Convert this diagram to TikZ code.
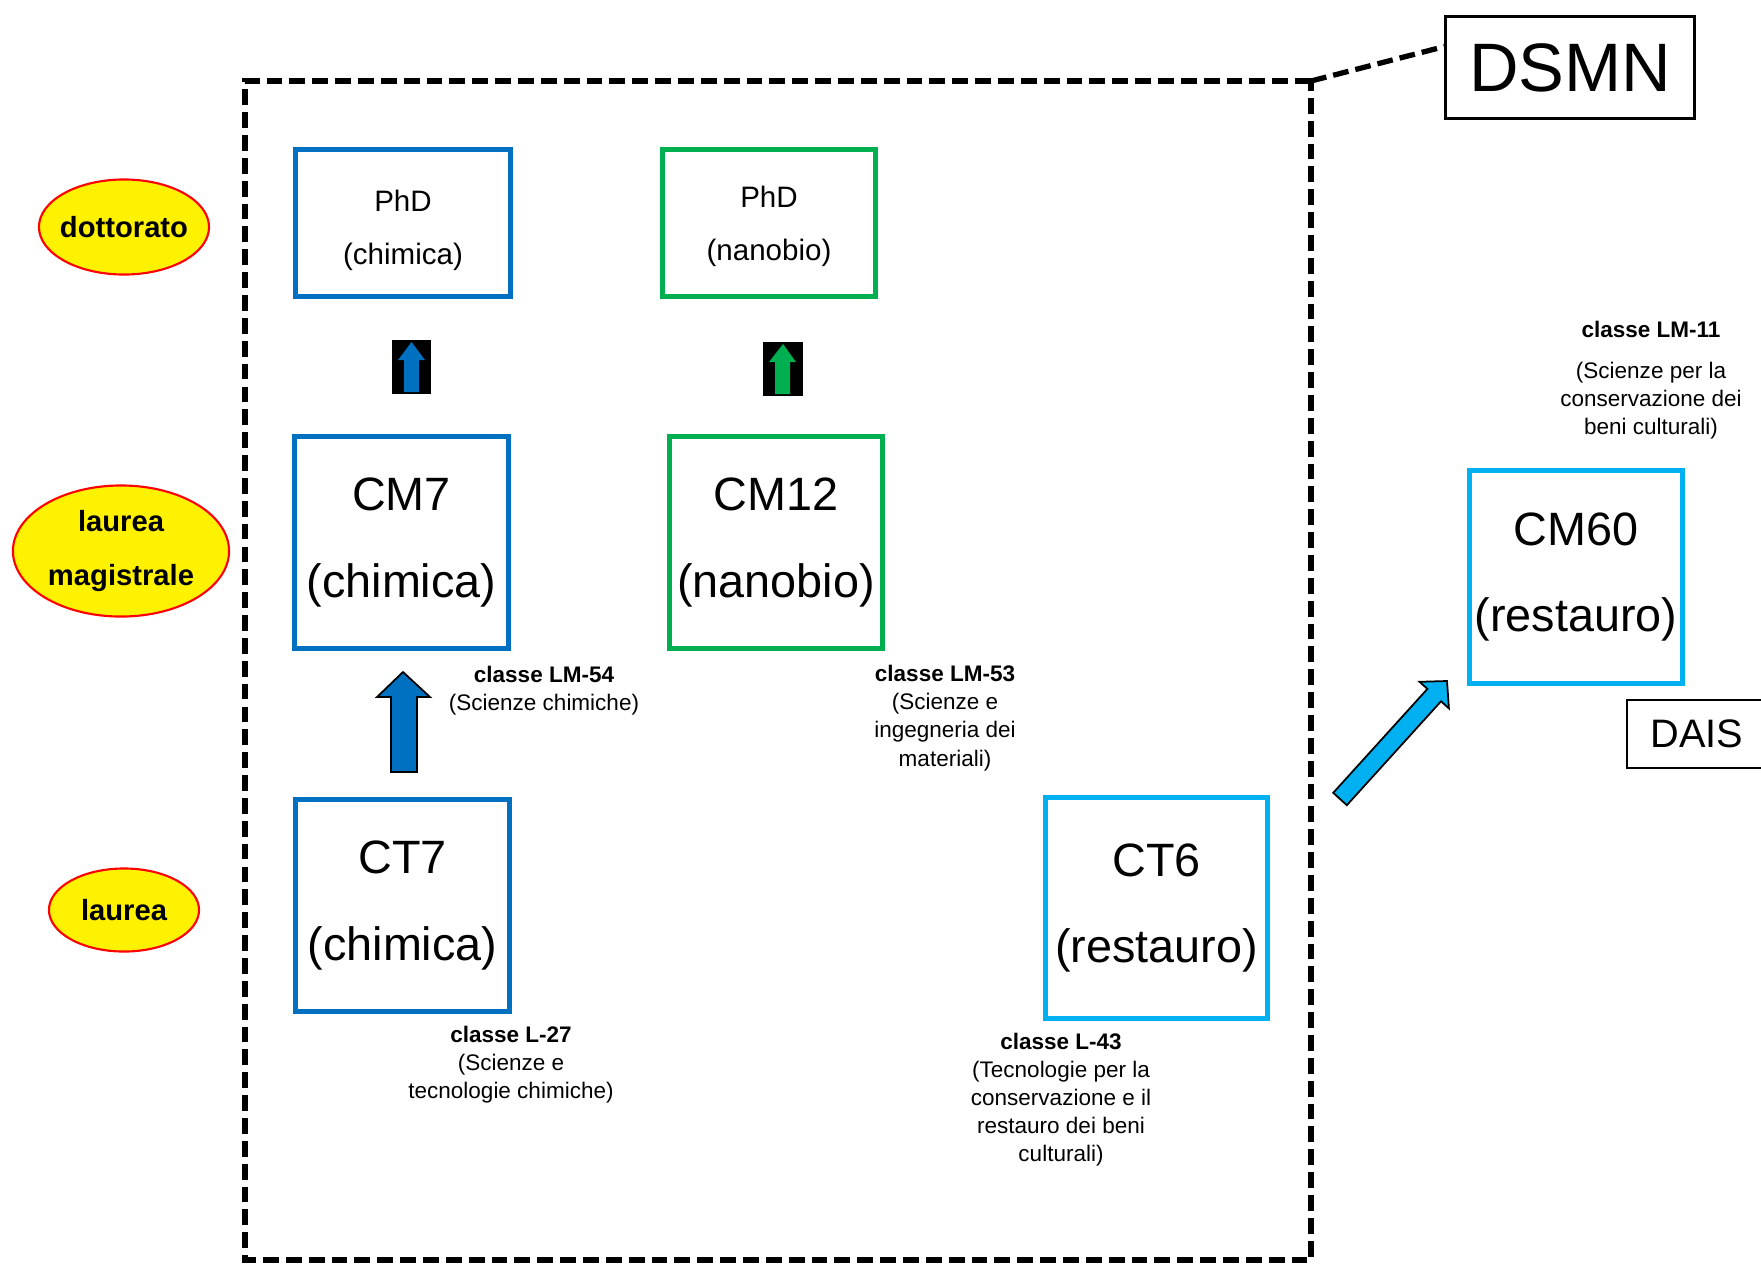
\documentclass[tikz,border=0pt]{standalone}
\usepackage{fontspec}
\setmainfont{Liberation Sans}
\usetikzlibrary{shapes.geometric,calc}
\definecolor{chimblue}{HTML}{0070C0}
\definecolor{nanogreen}{HTML}{00B050}
\definecolor{restcyan}{HTML}{00B0F0}
\tikzset{
  livello/.style={ellipse, draw=red, line width=0.6pt, fill=yellow, inner sep=0pt},
  livtesto/.style={font=\fontsize{8.3}{15.4}\selectfont\bfseries, align=center},
  corso/.style={draw, line width=1.4pt, inner sep=0pt, minimum width=2.14cm,
    minimum height=2.12cm, font=\fontsize{13.3}{24.5}\selectfont, align=center},
  dottbox/.style={draw, line width=1.4pt, inner sep=0pt, minimum width=2.15cm,
    minimum height=1.47cm},
  dottesto/.style={font=\fontsize{8.4}{15}\selectfont, align=center, yshift=-2pt},
  classe/.style={inner sep=0pt, font=\fontsize{6.4}{8}\selectfont, align=center},
  dipart/.style={draw, line width=0.7pt, inner sep=0pt},
  cornice/.style={line width=1.5pt, dash pattern=on 4.5pt off 2pt}
}

\begin{document}
\begin{tikzpicture}[x=0.01cm, y=-0.01cm]
\useasboundingbox (0,0) rectangle (1761,1263);

\node[livello, minimum width=1.70cm, minimum height=0.95cm,
  label={[livtesto]center:dottorato}] (dott) at (124,227) {};
\node[livello, minimum width=2.16cm, minimum height=1.31cm,
  label={[livtesto]center:laurea\\magistrale}] (magi) at (121,551) {};
\node[livello, minimum width=1.50cm, minimum height=0.83cm,
  label={[livtesto]center:laurea}] (laur) at (124,910) {};

\node[dottbox, draw=chimblue, label={[dottesto]center:PhD\\(chimica)}] (phdchim) at (403,223) {};
\node[dottbox, draw=nanogreen, minimum width=2.13cm, label={[dottesto, yshift=1pt]center:PhD\\(nanobio)}] (phdnano) at (769,223) {};

\node[corso, draw=chimblue] (cm7) at (401.5,542.5) {CM7\\(chimica)};
\node[corso, draw=nanogreen, minimum width=2.13cm] (cm12) at (776,542.5) {CM12\\(nanobio)};
\node[corso, draw=chimblue] (ct7) at (402.5,905.5) {CT7\\(chimica)};
\node[corso, draw=restcyan, minimum width=2.22cm, minimum height=2.20cm] (ct6) at (1156.5,908) {CT6\\(restauro)};
\node[corso, draw=restcyan, minimum width=2.13cm] (cm60) at (1576,577) {CM60\\(restauro)};

\node[classe] (lm54) at (544,691) {\textbf{classe LM-54}\\(Scienze chimiche)};
\node[classe] (lm53) at (945,718) {\textbf{classe LM-53}\\(Scienze e\\ingegneria dei\\materiali)};
\node[classe] (l27) at (511,1065) {\textbf{classe L-27}\\(Scienze e\\tecnologie chimiche)};
\node[classe] (l43) at (1061,1099.5) {\textbf{classe L-43}\\(Tecnologie per la\\conservazione e il\\restauro dei beni\\culturali)};
\node[classe, font=\fontsize{6.4}{8}\selectfont\bfseries] (lm11) at (1651,329) {classe LM-11};
\node[classe] (lm11b) at (1651,401) {(Scienze per la\\conservazione dei\\beni culturali)};

\node[dipart, minimum width=2.49cm, minimum height=1.02cm, font=\fontsize{19.5}{23}\selectfont] (dsmn) at (1570,67.5) {DSMN};
\node[dipart, minimum width=1.40cm, minimum height=0.68cm, font=\fontsize{11.3}{14}\selectfont] (dais) at (1697,734) {DAIS};

\coordinate (angolo) at (1311,81);
\draw[cornice] (angolo) -- ($(dsmn.north west)!0.3!(dsmn.south west)$);
\draw[cornice] (angolo) -- (245,81) -- (245,1260) -- (1311,1260) -- cycle;

\fill[black] (392,340) rectangle (431,394);
\fill[chimblue] (411.5,342) -- (425,360) -- (419,360) -- (419,392) -- (404,392) -- (404,360) -- (398,360) -- cycle;
\fill[black] (763,342) rectangle (803,396);
\fill[nanogreen] (783,344) -- (796,362) -- (790,362) -- (790,394) -- (775,394) -- (775,362) -- (769,362) -- cycle;

\draw[fill=chimblue, line width=0.5pt] (403,672) -- (430,697) -- (417,697) -- (417,772) -- (391,772) -- (391,697) -- (377,697) -- cycle;
\draw[fill=restcyan, line width=0.5pt] (1333.2,792.8) -- (1427.4,688.9) -- (1419.5,681.8) -- (1447,681) -- (1448.9,708.4) -- (1441,701.3) -- (1346.8,805.2) -- cycle;
\end{tikzpicture}
\end{document}
